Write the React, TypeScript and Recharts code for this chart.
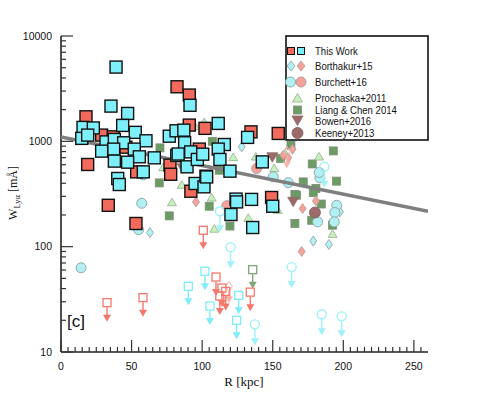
import { ScatterChart, Scatter, XAxis, YAxis } from "recharts";

// R [kpc], W [mA]
const thisWorkCyan = [
  { r: 39, w: 5070 }, { r: 35.4, w: 2160 }, { r: 47.2, w: 1840 }, { r: 15.6, w: 1356 },
  { r: 22.9, w: 1340 }, { r: 43.7, w: 1416 }, { r: 14.7, w: 1067 }, { r: 18.9, w: 1146 },
  { r: 52.6, w: 1217 }, { r: 60.2, w: 1012 }, { r: 76.7, w: 1119 }, { r: 81.5, w: 1259 },
  { r: 82, w: 735 }, { r: 31.9, w: 988 }, { r: 37.8, w: 1042 }, { r: 44.4, w: 969 },
  { r: 37.3, w: 843 }, { r: 28.8, w: 807 }, { r: 51.9, w: 843 }, { r: 55.5, w: 713 },
  { r: 66.1, w: 697 }, { r: 37.8, w: 649 }, { r: 47.2, w: 634 }, { r: 40.2, w: 444 },
  { r: 41.3, w: 389 }, { r: 58.3, w: 513 }, { r: 87, w: 1277 }, { r: 87.6, w: 969 },
  { r: 83, w: 758 }, { r: 89.3, w: 573 }, { r: 91.9, w: 794 }, { r: 96.6, w: 673 },
  { r: 100.4, w: 755 }, { r: 95, w: 398 }, { r: 101.3, w: 370 }, { r: 102.7, w: 467 },
  { r: 91.4, w: 2200 }, { r: 111.4, w: 1479 }, { r: 115.7, w: 933 }, { r: 111.4, w: 844 },
  { r: 112.6, w: 673 }, { r: 119.7, w: 521 }, { r: 124, w: 283 }, { r: 132.2, w: 1090 },
  { r: 142.6, w: 638 }, { r: 124.4, w: 266 }, { r: 135, w: 281 }, { r: 120.4, w: 202 },
  { r: 135.8, w: 152 }, { r: 150, w: 242 }, { r: 103.2, w: 459 },
];

const thisWorkRed = [
  { r: 82.2, w: 3296 }, { r: 90.9, w: 2750 }, { r: 17.7, w: 1710 }, { r: 28.8, w: 1146 },
  { r: 37, w: 1104 }, { r: 46, w: 880 }, { r: 53.6, w: 513 }, { r: 18.9, w: 603 },
  { r: 77.2, w: 594 }, { r: 77.7, w: 487 }, { r: 90.9, w: 1426 }, { r: 102, w: 1328 },
  { r: 98, w: 844 }, { r: 92, w: 336 }, { r: 134.6, w: 1230 }, { r: 153.9, w: 1188 },
  { r: 33.5, w: 247 }, { r: 53.1, w: 166 }, { r: 149.2, w: 293 },
];

const redLimits = [
  { r: 32.6, w: 29.4 }, { r: 58.1, w: 32.8 }, { r: 100.8, w: 143 }, { r: 109.8, w: 51.5 },
  { r: 114, w: 40.5 }, { r: 116.7, w: 37.6 }, { r: 112.5, w: 34 }, { r: 134.1, w: 37 },
];
const cyanLimits = [
  { r: 90.2, w: 42 }, { r: 102, w: 58.4 }, { r: 105.5, w: 27.3 }, { r: 125.9, w: 34.5 },
  { r: 124.4, w: 20 },
];
const liangLimits = [{ r: 135.8, w: 60.5 }];
const borthakurRedLimits = [{ r: 119, w: 42 }, { r: 160, w: 800 }];
const burchettCyanLimits = [
  { r: 112.6, w: 217 }, { r: 120.2, w: 99 }, { r: 186.5, w: 573 }, { r: 137.4, w: 18.3 },
  { r: 163.4, w: 64 }, { r: 184.7, w: 22.8 }, { r: 198.8, w: 21.8 },
];

const burchettCyan = [
  { r: 14.2, w: 63 }, { r: 57.2, w: 258 }, { r: 55, w: 145 }, { r: 161, w: 405 },
  { r: 183.4, w: 450 }, { r: 195.3, w: 247 }, { r: 181.8, w: 172 }, { r: 194, w: 211 },
  { r: 193.6, w: 172 }, { r: 150.4, w: 460 }, { r: 182.9, w: 506 }, { r: 58.3, w: 480 },
];
const burchettRed = [{ r: 138.6, w: 552 }, { r: 117.5, w: 245 }];

const borthakurCyan = [
  { r: 63, w: 136 }, { r: 178.7, w: 113 }, { r: 189.8, w: 105 }, { r: 197.6, w: 214 },
  { r: 128, w: 887 },
];
const borthakurRed = [
  { r: 170.5, w: 90 }, { r: 171.2, w: 230 }, { r: 180.6, w: 272 }, { r: 95.6, w: 266 },
  { r: 157.5, w: 740 }, { r: 164, w: 840 }, { r: 161, w: 697 },
];

const prochaska = [
  { r: 101.5, w: 1531 }, { r: 95, w: 1402 }, { r: 72.5, w: 573 }, { r: 85.5, w: 389 },
  { r: 106.7, w: 295 }, { r: 122, w: 713 }, { r: 78.6, w: 266 }, { r: 108.6, w: 149 },
  { r: 132.7, w: 189 }, { r: 138, w: 722 }, { r: 151, w: 560 }, { r: 158.7, w: 778 },
  { r: 182.8, w: 722 }, { r: 192.4, w: 133 }, { r: 153.5, w: 225 },
];

const liangChen = [
  { r: 70.1, w: 867 }, { r: 69.6, w: 403 }, { r: 107.2, w: 1000 }, { r: 112.1, w: 532 },
  { r: 76.7, w: 196 }, { r: 105, w: 242 }, { r: 119.7, w: 157 }, { r: 155.6, w: 687 },
  { r: 162.9, w: 920 }, { r: 192.9, w: 811 }, { r: 178, w: 610 }, { r: 195.2, w: 419 },
  { r: 171.6, w: 412 }, { r: 165.7, w: 313 }, { r: 180.6, w: 357 }, { r: 178.7, w: 327 },
  { r: 184.4, w: 254 }, { r: 165.7, w: 166 }, { r: 177.6, w: 178 }, { r: 166.9, w: 308 },
  { r: 192.4, w: 160 },
];

const bowen = [{ r: 164.5, w: 266 }, { r: 149.7, w: 703 }, { r: 86.2, w: 552 }];
const keeney = [{ r: 179.9, w: 211 }];

const trend = [{ r: 0, w: 1100 }, { r: 260, w: 217 }];

const xTicks = Array.from({ length: 52 }, (_, i) => i * 5);
const yTicks = [1, 10, 100]
  .flatMap((d) => [1, 2, 3, 4, 5, 6, 7, 8, 9].map((m) => m * d * 10))
  .concat([10000]);

const RED = "#f26a5c";
const CYAN = "#7ef0fb";
const LRED = "#f5a29a";
const LCYAN = "#b2f0f4";
const TRI = "#c9efc2";
const GREEN = "#6c9c64";
const BROWN = "#9c6b69";
const sans = "'Liberation Sans', Arial, sans-serif";
const serif = "'Liberation Serif', 'Times New Roman', serif";

const square = (fill: string, stroke: string, s: number, sw: number) => (p: any) => (
  <rect x={p.cx - s / 2} y={p.cy - s / 2} width={s} height={s} fill={fill} stroke={stroke} strokeWidth={sw} />
);
const circle = (fill: string, stroke: string, r: number) => (p: any) => (
  <circle cx={p.cx} cy={p.cy} r={r} fill={fill} stroke={stroke} strokeWidth={1} />
);
const diamond = (fill: string, stroke: string) => (p: any) => (
  <polygon
    points={`${p.cx},${p.cy - 5} ${p.cx + 3.5},${p.cy} ${p.cx},${p.cy + 5} ${p.cx - 3.5},${p.cy}`}
    fill={fill}
    stroke={stroke}
    strokeWidth={0.8}
  />
);
const triangle = (fill: string, stroke: string, s: number, down = false) => (p: any) => {
  const h = s * 0.85;
  const pts = down
    ? `${p.cx - s / 2},${p.cy - h / 2} ${p.cx + s / 2},${p.cy - h / 2} ${p.cx},${p.cy + h / 2}`
    : `${p.cx - s / 2},${p.cy + h / 2} ${p.cx + s / 2},${p.cy + h / 2} ${p.cx},${p.cy - h / 2}`;
  return <polygon points={pts} fill={fill} stroke={stroke} strokeWidth={0.8} />;
};
const limit = (kind: string, color: string, len: number) => (p: any) => {
  const { cx, cy } = p;
  let m;
  if (kind === "circle") m = <circle cx={cx} cy={cy} r={4.5} fill="none" stroke={color} strokeWidth={1.4} />;
  else if (kind === "diamond")
    m = <polygon points={`${cx},${cy - 5} ${cx + 3.5},${cy} ${cx},${cy + 5} ${cx - 3.5},${cy}`} fill="none" stroke={color} strokeWidth={1} />;
  else m = <rect x={cx - 4} y={cy - 4} width={8} height={8} fill="none" stroke={color} strokeWidth={1.3} />;
  return (
    <g>
      {m}
      <line x1={cx} x2={cx} y1={cy + 4.5} y2={cy + len - 6} stroke={color} strokeWidth={1.4} />
      <polygon points={`${cx - 4},${cy + len - 7} ${cx + 4},${cy + len - 7} ${cx},${cy + len}`} fill={color} />
    </g>
  );
};

const TICK = "#333";
const BottomTick = ({ x, y, payload }: any) => {
  const major = payload.value % 50 === 0;
  const X = Number(x);
  const Y = Number(y);
  return (
    <g>
      <path d={`M${X},${Y}V${Y - (major ? 12 : 5)}`} stroke={TICK} strokeWidth={1.2} fill="none" />
      {major && (
        <text x={X} y={Y + 18} textAnchor="middle" fontFamily={sans} fontSize={10.5} fill="#111">
          {payload.value}
        </text>
      )}
    </g>
  );
};
const TopTick = ({ x, y, payload }: any) => {
  const major = payload.value % 50 === 0;
  const X = Number(x);
  const Y = Number(y);
  return <path d={`M${X},${Y}V${Y + (major ? 12 : 5)}`} stroke={TICK} strokeWidth={1.2} fill="none" />;
};
const isMajorY = (v: number) => [10, 100, 1000, 10000].includes(v);
const LeftTick = ({ x, y, payload }: any) => {
  const major = isMajorY(payload.value);
  const X = Number(x);
  const Y = Number(y);
  return (
    <g>
      <path d={`M${X},${Y}H${X + (major ? 12 : 5)}`} stroke={TICK} strokeWidth={1.2} fill="none" />
      {major && (
        <text x={X - 9} y={Y} dy="0.35em" textAnchor="end" fontFamily={sans} fontSize={10.5} fill="#111">
          {payload.value}
        </text>
      )}
    </g>
  );
};
const RightTick = ({ x, y, payload }: any) => {
  const major = isMajorY(payload.value);
  const X = Number(x);
  const Y = Number(y);
  return <path d={`M${X},${Y}H${X - (major ? 12 : 5)}`} stroke={TICK} strokeWidth={1.2} fill="none" />;
};

const legendRows = [
  { label: "This Work", y: 51 },
  { label: "Borthakur+15", y: 66 },
  { label: "Burchett+16", y: 82 },
  { label: "Prochaska+2011", y: 98 },
  { label: "Liang & Chen 2014", y: 110 },
  { label: "Bowen+2016", y: 121 },
  { label: "Keeney+2013", y: 133 },
];

export default function App() {
  return (
    <div style={{ position: "absolute", left: 0, top: 0, width: 477, height: 395, background: "#fff" }}>
      <ScatterChart width={477} height={395} margin={{ top: 36, right: 49, bottom: 23, left: 0 }}>
        <Scatter data={liangChen} shape={square(GREEN, "#7a8f76", 8, 0.8)} isAnimationActive={false} />
        <Scatter data={prochaska} shape={triangle(TRI, "#8fb088", 9)} isAnimationActive={false} />
        <Scatter data={borthakurCyan} shape={diamond(LCYAN, "#8a9a9c")} isAnimationActive={false} />
        <Scatter data={borthakurRed} shape={diamond(LRED, "#b09a98")} isAnimationActive={false} />
        <Scatter data={burchettCyan} shape={circle(LCYAN, "#8fa9ab", 5)} isAnimationActive={false} />
        <Scatter data={burchettRed} shape={circle(LRED, "#b39c9a", 5)} isAnimationActive={false} />
        <Scatter data={bowen} shape={triangle(BROWN, "#8a6a68", 11, true)} isAnimationActive={false} />
        <Scatter data={keeney} shape={circle(BROWN, "#8a6a68", 5.5)} isAnimationActive={false} />
        <Scatter data={burchettCyanLimits} shape={limit("circle", "#9ff2f8", 21)} isAnimationActive={false} />
        <Scatter data={borthakurRedLimits} shape={limit("diamond", "#f8b5ae", 17)} isAnimationActive={false} />
        <Scatter data={liangLimits} shape={limit("square", "#7fa878", 19)} isAnimationActive={false} />
        <Scatter data={cyanLimits} shape={limit("square", "#7eedfa", 19)} isAnimationActive={false} />
        <Scatter data={redLimits} shape={limit("square", "#f4786b", 19)} isAnimationActive={false} />

        <Scatter
          data={trend}
          line={{ stroke: "#7f7f7f", strokeWidth: 3.5 }}
          shape={() => <g />}
          isAnimationActive={false}
        />

        <Scatter data={thisWorkRed} shape={square(RED, "#111", 12, 1.4)} isAnimationActive={false} />
        <Scatter data={thisWorkCyan} shape={square(CYAN, "#111", 12, 1.4)} isAnimationActive={false} />

        <XAxis
          dataKey="r"
          type="number"
          domain={[0, 260]}
          ticks={xTicks}
          interval={0}
          tick={BottomTick}
          tickSize={0}
          tickMargin={0}
          tickLine={false}
          height={20}
          axisLine={{ stroke: "#222", strokeWidth: 1.6 }}
          allowDataOverflow
        />
        <XAxis
          xAxisId="top"
          orientation="top"
          type="number"
          domain={[0, 260]}
          ticks={xTicks}
          interval={0}
          tick={TopTick}
          tickSize={0}
          tickMargin={0}
          tickLine={false}
          height={0}
          axisLine={{ stroke: "#222", strokeWidth: 1.6 }}
          allowDataOverflow
        />
        <YAxis
          dataKey="w"
          type="number"
          scale="log"
          domain={[10, 10000]}
          ticks={yTicks}
          interval={0}
          tick={LeftTick}
          tickSize={0}
          tickMargin={0}
          tickLine={false}
          width={61}
          axisLine={{ stroke: "#222", strokeWidth: 1.6 }}
          allowDataOverflow
        />
        <YAxis
          yAxisId="right"
          orientation="right"
          type="number"
          scale="log"
          domain={[10, 10000]}
          ticks={yTicks}
          interval={0}
          tick={RightTick}
          tickSize={0}
          tickMargin={0}
          tickLine={false}
          width={0}
          axisLine={{ stroke: "#222", strokeWidth: 1.6 }}
          allowDataOverflow
        />
      </ScatterChart>

      <svg
        width={477}
        height={395}
        style={{ position: "absolute", left: 0, top: 0, pointerEvents: "none" }}
      >
        <rect x={286} y={36} width={142} height={104} fill="#fff" stroke="#111" strokeWidth={1.6} />
        <rect x={287.5} y={47.5} width={7} height={7} fill={RED} stroke="#111" strokeWidth={1} />
        <rect x={297.5} y={47.5} width={7} height={7} fill={CYAN} stroke="#111" strokeWidth={1} />
        <polygon points="291,61 295,66 291,71 287,66" fill={LCYAN} stroke="#8a9a9c" strokeWidth={0.8} />
        <polygon points="301,61 305,66 301,71 297,66" fill={LRED} stroke="#b09a98" strokeWidth={0.8} />
        <circle cx={290.5} cy={82} r={5} fill={LCYAN} stroke="#8fa9ab" />
        <circle cx={301} cy={82} r={5} fill={LRED} stroke="#b39c9a" />
        <polygon points="292.5,102 302.5,102 297.5,93.5" fill={TRI} stroke="#8fb088" strokeWidth={0.8} />
        <rect x={293.5} y={106} width={8} height={8} fill={GREEN} stroke="#7a8f76" strokeWidth={0.8} />
        <polygon points="292,116 303,116 297.5,125.5" fill={BROWN} stroke="#8a6a68" strokeWidth={0.8} />
        <circle cx={297.5} cy={133} r={5.5} fill={BROWN} stroke="#8a6a68" />
        {legendRows.map((row) => (
          <text
            key={row.label}
            transform={`translate(315,${row.y}) scale(0.87,1)`}
            dy="0.35em"
            fontFamily={sans}
            fontSize={11}
            fill="#111"
          >
            {row.label}
          </text>
        ))}

        <text x={67} y={327} fontFamily={sans} fontSize={17} fill="#111">
          [c]
        </text>

        <text x={244} y={386} textAnchor="middle" fontFamily={serif} fontSize={13} fill="#111">
          R [kpc]
        </text>
        <text
          transform="translate(17,193) rotate(-90)"
          textAnchor="middle"
          fontFamily={serif}
          fontSize={12}
          fill="#111"
        >
          W<tspan fontSize={8.5} dy={3}>Lyα</tspan>
          <tspan dy={-3}> [mÅ]</tspan>
        </text>
      </svg>
    </div>
  );
}
